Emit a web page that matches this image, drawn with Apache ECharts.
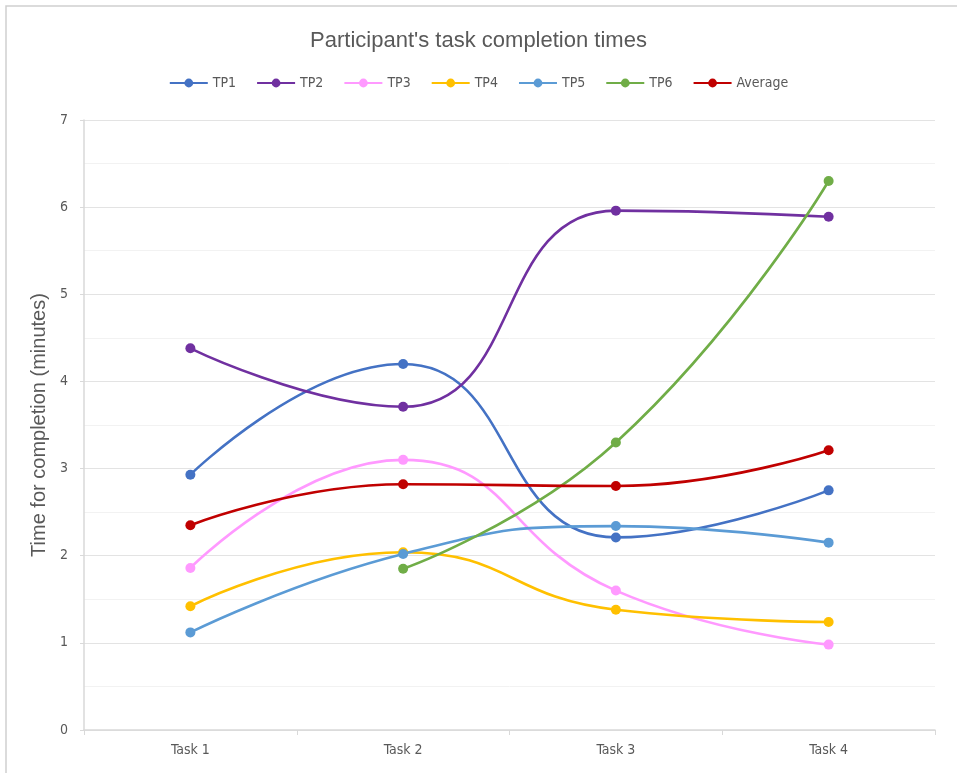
<!DOCTYPE html>
<html>
<head>
<meta charset="utf-8">
<script src="https://cdn.jsdelivr.net/npm/echarts@6/dist/echarts.min.js"></script>
<style>
  html, body { margin: 0; padding: 0; background: #ffffff; }
  #chart { width: 957px; height: 773px; }
</style>
</head>
<body>
<div id="chart"></div>
<script>
const titleText = "Participant's task completion times";
const yAxisTitle = "Time for completion (minutes)";
const categories = ["Task 1", "Task 2", "Task 3", "Task 4"];
const seriesNames = ["TP1", "TP2", "TP3", "TP4", "TP5", "TP6", "Average"];
const tp1 = [2.93, 4.20, 2.21, 2.75];
const tp2 = [4.38, 3.71, 5.96, 5.89];
const tp3 = [1.86, 3.10, 1.60, 0.98];
const tp4 = [1.42, 2.04, 1.38, 1.24];
const tp5 = [1.12, 2.02, 2.34, 2.15];
const tp6 = [null, 1.85, 3.30, 6.30];
const average = [2.35, 2.82, 2.80, 3.21];
const seriesColors = ["#4472C4", "#7030A0", "#FF99FF", "#FFC000", "#5B9BD5", "#70AD47", "#C00000"];
const seriesValues = [tp1, tp2, tp3, tp4, tp5, tp6, average];

const chart = echarts.init(document.getElementById('chart'), null, { renderer: 'canvas' });
const narrow = "'Liberation Sans Narrow', 'DejaVu Sans Condensed', 'Liberation Sans', sans-serif";
const textColor = '#595959';

const option = {
  backgroundColor: '#ffffff',
  animation: false,
  graphic: [{
    type: 'rect',
    shape: { x: 6, y: 6, width: 960, height: 780 },
    style: { fill: 'none', stroke: '#cfcfcf', lineWidth: 1.5 },
    silent: true
  }],
  title: {
    text: titleText,
    left: 'center',
    top: 25,
    textStyle: { fontFamily: "'Liberation Sans', Arial, sans-serif", fontSize: 22, fontWeight: 'normal', color: textColor }
  },
  legend: {
    top: 71,
    left: 'center',
    itemWidth: 38,
    itemHeight: 11,
    itemGap: 20,
    data: seriesNames,
    textStyle: { fontFamily: narrow, fontSize: 14, color: textColor }
  },
  grid: { left: 84, right: 22, top: 120, bottom: 43, containLabel: false },
  xAxis: {
    type: 'category',
    data: categories,
    boundaryGap: true,
    axisLine: { show: true, lineStyle: { color: '#d9d9d9', width: 1.5 } },
    axisTick: { show: true, length: 5, lineStyle: { color: '#d9d9d9' } },
    axisLabel: { fontFamily: narrow, fontSize: 14, color: textColor, margin: 13 },
    splitLine: { show: false }
  },
  yAxis: {
    type: 'value',
    min: 0,
    max: 7,
    interval: 1,
    name: yAxisTitle,
    nameLocation: 'middle',
    nameGap: 29,
    nameRotate: 90,
    nameTextStyle: { fontFamily: "'Liberation Sans', Arial, sans-serif", fontSize: 20, color: textColor },
    axisLine: { show: true, lineStyle: { color: '#d9d9d9', width: 1.5 } },
    axisTick: { show: true, length: 4, lineStyle: { color: '#d9d9d9' } },
    axisLabel: { fontFamily: narrow, fontSize: 14, color: textColor, margin: 16 },
    splitLine: { show: true, lineStyle: { color: '#e3e3e3', width: 1.2 } },
    minorTick: { show: false, splitNumber: 2 },
    minorSplitLine: { show: true, lineStyle: { color: '#f2f2f2', width: 1 } }
  },
  series: seriesNames.map((name, i) => ({
    name: name,
    type: 'line',
    data: seriesValues[i],
    smooth: 0.5,
    symbol: 'circle',
    symbolSize: 10,
    showSymbol: true,
    itemStyle: { color: seriesColors[i] },
    lineStyle: { color: seriesColors[i], width: 2.6 },
    z: 2 + i
  }))
};
chart.setOption(option);
</script>
</body>
</html>
